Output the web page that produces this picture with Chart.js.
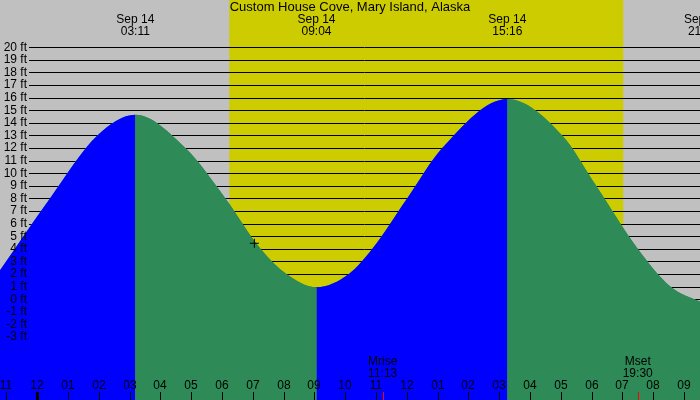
<!DOCTYPE html>
<html>
<head>
<meta charset="utf-8">
<script src="https://cdn.jsdelivr.net/npm/chart.js@4/dist/chart.umd.min.js"></script>
<style>
  html, body { margin: 0; padding: 0; background: #c0c0c0; }
  canvas { display: block; }
</style>
</head>
<body>
<canvas id="grafico" width="700" height="400"></canvas>
<script>
// hours since Sep 14 00:00 and heights in ft
// (highs/lows plus a few gridline crossings)
const tideHours = [-1.211, 0.41, 1.95, 3.183, 4.81, 6.11, 7.25, 8.09, 9.067, 10.12, 10.88, 12.01, 13.15, 15.267, 17.05, 18.15, 19.5, 20.56, 21.617];
const tideFeet = [2.3, 8, 13, 14.65, 12, 8, 4, 2, 0.95, 2, 4, 8, 12, 15.9, 13, 9, 4, 1, -0.3];

const extremeHours = [3.183, 9.067, 15.267, 21.617];
const extremeDates = ["Sep 14", "Sep 14", "Sep 14", "Sep 14"];
const extremeTimes = ["03:11", "09:04", "15:16", "21:37"];

const sunHours = [6.236, 19.03];
const moonHours = [11.217, 19.5];
const moonNames = ["Mrise", "Mset"];
const moonTimes = ["11:13", "19:30"];

const nowHour = [7.05];
const nowFeet = [4.44];

const yTicks = [-3, -2, -1, 0, 1, 2, 3, 4, 5, 6, 7, 8, 9, 10, 11, 12, 13, 14, 15, 16, 17, 18, 19, 20];
const hourTicks = [-1, 0, 1, 2, 3, 4, 5, 6, 7, 8, 9, 10, 11, 12, 13, 14, 15, 16, 17, 18, 19, 20, 21];
const hourLabels = ["11", "12", "01", "02", "03", "04", "05", "06", "07", "08", "09", "10",
  "11", "12", "01", "02", "03", "04", "05", "06", "07", "08", "09"];

const title = "Custom House Cove, Mary Island, Alaska";

function pontos(xs, ys) {
  return xs.map((x, i) => ({ x: x, y: ys[i] }));
}

// rising = blue, falling = green
function corMare(c) {
  return c.p1.parsed.y > c.p0.parsed.y ? "#0000ff" : "#2e8b57";
}

function mare(cor) {
  return {
    data: pontos(tideHours, tideFeet),
    showLine: true,
    fill: "start",
    backgroundColor: cor,
    borderColor: "rgba(0,0,0,0)",
    borderWidth: 0,
    pointRadius: 0,
    cubicInterpolationMode: "monotone"
  };
}

const fundo = {
  id: "fundo",
  beforeDraw(chart) {
    const { ctx, width, height, scales } = chart;
    ctx.save();
    ctx.fillStyle = "#c0c0c0";
    ctx.fillRect(0, 0, width, height);
    const x0 = scales.x.getPixelForValue(sunHours[0]);
    const x1 = scales.x.getPixelForValue(sunHours[1]);
    ctx.fillStyle = "#cccc00";
    ctx.fillRect(x0, 0, x1 - x0, height);
    ctx.restore();
  },
  beforeDatasetsDraw(chart) {
    const { ctx, chartArea, scales } = chart;
    ctx.save();
    ctx.strokeStyle = "#000";
    ctx.lineWidth = 1;
    yTicks.forEach(v => {
      const y = Math.round(scales.y.getPixelForValue(v)) + 0.5;
      ctx.beginPath();
      ctx.moveTo(29, y);
      ctx.lineTo(chartArea.right, y);
      ctx.stroke();
    });
    ctx.restore();
  },
  afterDatasetsDraw(chart) {
    const { ctx, width, scales } = chart;
    ctx.save();
    ctx.fillStyle = "#000";
    ctx.font = "12px 'Liberation Sans', Arial, sans-serif";
    ctx.textBaseline = "middle";

    // y labels
    ctx.textAlign = "right";
    yTicks.forEach(v => {
      ctx.fillText(v + " ft", 27, scales.y.getPixelForValue(v));
    });

    // hour ticks
    ctx.textAlign = "center";
    hourTicks.forEach((h, i) => {
      const x = Math.round(scales.x.getPixelForValue(h));
      ctx.fillText(hourLabels[i], x, 386);
      ctx.fillRect(h === 0 ? x - 1 : x, 392, h === 0 ? 3 : 1, 8);
    });

    // moon
    moonHours.forEach((h, i) => {
      const x = scales.x.getPixelForValue(h);
      ctx.fillStyle = "#000";
      ctx.fillText(moonNames[i], x, 362);
      ctx.fillText(moonTimes[i], x, 374);
      ctx.fillStyle = "#ff0000";
      ctx.fillRect(Math.round(x), 392, 1, 8);
    });

    // extremes
    ctx.fillStyle = "#000";
    extremeHours.forEach((h, i) => {
      const x = scales.x.getPixelForValue(h);
      ctx.fillText(extremeDates[i], x, 20);
      ctx.fillText(extremeTimes[i], x, 32);
    });

    ctx.font = "13px 'Liberation Sans', Arial, sans-serif";
    ctx.fillText(title, width / 2, 7);
    ctx.restore();
  }
};

const ctx = document.getElementById("grafico").getContext("2d");

const mareCor = mare("#0000ff");
mareCor.segment = { backgroundColor: corMare };
const mareFundo = mare("#2e8b57"); // backing fill so segment seams don't show

new Chart(ctx, {
  type: "scatter",
  data: {
    datasets: [
      {
        data: pontos(nowHour, nowFeet),
        pointStyle: "cross",
        pointRadius: 4.5,
        borderColor: "#000",
        borderWidth: 1,
        backgroundColor: "#000"
      },
      mareCor,
      mareFundo
    ]
  },
  options: {
    responsive: false,
    animation: false,
    devicePixelRatio: 1,
    layout: { padding: 0, autoPadding: false },
    plugins: {
      legend: { display: false },
      tooltip: { enabled: false }
    },
    scales: {
      x: { type: "linear", min: -1.211, max: 21.523, display: false },
      y: { type: "linear", min: -8, max: 23.75, display: false }
    }
  },
  plugins: [fundo]
});
</script>
</body>
</html>
